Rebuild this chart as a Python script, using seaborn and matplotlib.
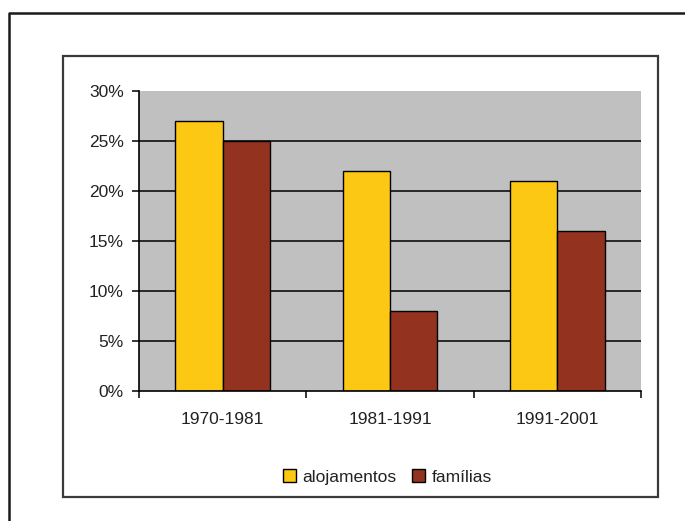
import pandas as pd
import seaborn as sns
import matplotlib.pyplot as plt
from matplotlib.lines import Line2D
from matplotlib.patches import Rectangle
from matplotlib.ticker import FixedLocator, PercentFormatter

# chart data
periods = ['1970-1981', '1981-1991', '1991-2001']
series = ['alojamentos', 'famílias']
alojamentos = [27, 22, 21]
familias = [25, 8, 16]
y_ticks = [0, 5, 10, 15, 20, 25, 30]
colors = ['#FCC814', '#943220']

df = pd.DataFrame({
    'period': periods * 2,
    'series': [series[0]] * 3 + [series[1]] * 3,
    'value': alojamentos + familias,
})

sns.set_style('white')
plt.rcParams['font.family'] = ['Liberation Sans', 'DejaVu Sans']

W, H = 685, 521
fig = plt.figure(figsize=(W / 100, H / 100), dpi=100)

# outer frame (only left and top edges visible in the picture)
fig.add_artist(Line2D([9 / W, 9 / W, 1.05], [-0.05, 1 - 13 / H, 1 - 13 / H],
                      transform=fig.transFigure, color='#1a1a1a', lw=1.8))
# chart area frame
fig.add_artist(Rectangle((63 / W, 1 - 497 / H), (658 - 63) / W, (497 - 56) / H,
                         transform=fig.transFigure, fill=False,
                         edgecolor='#3a3a3a', lw=1.6))

ax = fig.add_axes([139 / W, 1 - 391 / H, (641 - 139) / W, (391 - 91) / H])
ax.set_facecolor('#C0C0C0')

for v in y_ticks[1:-1]:
    ax.axhline(v, color='black', lw=1.1, zorder=0.5)

sns.barplot(data=df, x='period', y='value', hue='series', order=periods,
            hue_order=series, palette=colors, width=0.565, saturation=1,
            edgecolor='black', linewidth=1.0, ax=ax, zorder=2)

ax.set_xlim(-0.5, 2.5)
ax.set_ylim(0, 30)
ax.set_yticks(y_ticks)
ax.yaxis.set_major_formatter(PercentFormatter(decimals=0))
ax.set_xlabel('')
ax.set_ylabel('')

for side in ['top', 'right']:
    ax.spines[side].set_visible(False)
for side in ['left', 'bottom']:
    ax.spines[side].set_color('black')
    ax.spines[side].set_linewidth(1.2)

ax.tick_params(axis='y', direction='out', length=5, width=1.1, color='black',
               pad=6, labelsize=12.5, labelcolor='#222222', left=True)
ax.tick_params(axis='x', which='major', length=0, pad=15, labelsize=12.5,
               labelcolor='#222222')
ax.xaxis.set_minor_locator(FixedLocator([-0.5, 0.5, 1.5, 2.5]))
ax.tick_params(axis='x', which='minor', direction='out', length=5, width=1.1,
               color='black', bottom=True)

handles, labels = ax.get_legend_handles_labels()
ax.get_legend().remove()
fig.legend(handles, labels, loc='center', bbox_to_anchor=(387.5 / W, 1 - 477 / H),
           ncol=2, frameon=False, fontsize=12.5, handlelength=0.75,
           handleheight=0.75, handletextpad=0.4, columnspacing=0.9,
           borderpad=0, labelcolor='#222222')

fig.savefig('out.png', dpi=100)
plt.close(fig)
